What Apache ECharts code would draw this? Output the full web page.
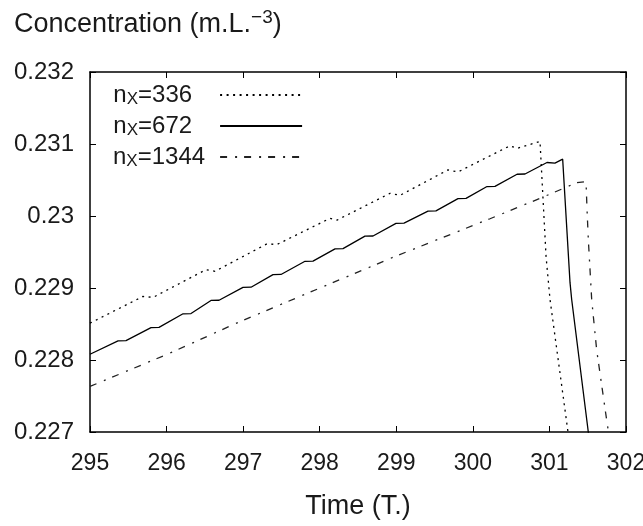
<!DOCTYPE html>
<html>
<head>
<meta charset="utf-8">
<script src="https://cdn.jsdelivr.net/npm/echarts@6/dist/echarts.min.js"></script>
<style>html,body{margin:0;padding:0;background:#fff;}#c{width:643px;height:526px;}</style>
</head>
<body>
<div id="c"></div>
<script>
// ---- data ----
const xTickLabels = ['295','296','297','298','299','300','301','302'];
const yTickLabels = ['0.227','0.228','0.229','0.23','0.231','0.232'];
const seriesNames = ['336','672','1344'];

const t336 = [295.000,295.692,295.823,296.515,296.633,297.312,297.442,298.134,298.226,298.918,299.049,299.675,299.806,300.485,300.577,300.877,300.956,301.008,301.243,301.282];
const c336 = [0.228512,0.228883,0.228869,0.229255,0.229232,0.229614,0.229604,0.229967,0.229943,0.230315,0.230287,0.230640,0.230612,0.230975,0.230939,0.231036,0.229437,0.228837,0.226996,0.226670];

const t672 = [295.000,295.366,295.470,295.797,295.901,296.215,296.319,296.580,296.685,296.998,297.103,297.390,297.494,297.808,297.912,298.200,298.304,298.591,298.696,298.996,299.101,299.414,299.518,299.806,299.911,300.185,300.289,300.577,300.681,300.968,301.072,301.173,301.269,301.291,301.508,301.530];
const c672 = [0.228080,0.228265,0.228269,0.228450,0.228453,0.228642,0.228645,0.228827,0.228830,0.229008,0.229011,0.229185,0.229188,0.229371,0.229374,0.229544,0.229547,0.229720,0.229722,0.229897,0.229900,0.230068,0.230071,0.230241,0.230244,0.230409,0.230411,0.230580,0.230583,0.230743,0.230734,0.230789,0.229074,0.228837,0.226996,0.226814];

const t1344 = [295.000,296.019,296.955,298.004,298.970,300.224,300.877,301.177,301.356,301.478,301.491,301.508,301.552,301.617,301.748,301.772,301.785];
const c1344 = [0.227633,0.228084,0.228531,0.229000,0.229432,0.229962,0.230245,0.230381,0.230464,0.230478,0.230092,0.229674,0.228837,0.228139,0.227163,0.226996,0.226860];

const zip = (a, b) => a.map((v, i) => [v, b[i]]);
const FONT = 'Liberation Sans, Arial, Helvetica, sans-serif';
const INK = '#1a1a1a';
const labelFor = (arr, base, step) => v => arr[Math.round((v - base) / step)] || '';

// measure text so legend labels occupy a fixed-width, left-aligned block
const ctx = document.createElement('canvas').getContext('2d');
const measure = (s, size) => { ctx.font = size + 'px ' + FONT; return ctx.measureText(s).width; };
const LEGEND_TEXT_W = 102;

const richLegend = {
  n: { fontSize: 24, fontFamily: FONT, color: INK, lineHeight: 24 },
  x: { fontSize: 17, fontFamily: FONT, color: INK, lineHeight: 24, padding: [9, 0, 0, 0] },
  v: { fontSize: 24, fontFamily: FONT, color: INK, lineHeight: 24 }
};
const padFor = name => {
  const val = '=' + name;
  const used = measure('n', 24) + measure('X', 17) + measure(val, 24);
  return Math.max(0, Math.round(LEGEND_TEXT_W - used));
};
seriesNames.forEach(n => {
  const pad = padFor(n);
  richLegend['p' + pad] = { width: pad, fontSize: 24, lineHeight: 24 };
});
const legendLabel = name => {
  const n = name.slice(3);
  return '{n|n}{x|X}{v|=' + n + '}{p' + padFor(n) + '| }';
};

const chart = echarts.init(document.getElementById('c'), null, { renderer: 'canvas' });
chart.setOption({
  backgroundColor: '#fff',
  animation: false,
  title: {
    text: '{a|Concentration (m.L.}{s|\u22123}{a|)}',
    left: 9, top: 4,
    textStyle: {
      fontWeight: 'normal',
      rich: {
        a: { fontSize: 27, fontFamily: FONT, fontWeight: 'normal', color: INK, lineHeight: 32 },
        s: { fontSize: 19, fontFamily: FONT, fontWeight: 'normal', color: INK, lineHeight: 32, padding: [0, 0, 14, 0] }
      }
    }
  },
  grid: { left: 90, right: 17, top: 72, bottom: 94, containLabel: false, outerBoundsMode: 'none' },
  legend: {
    orient: 'vertical',
    left: 108, top: 77,
    align: 'right',
    itemWidth: 82, itemHeight: 12, itemGap: 5,
    itemStyle: { color: 'rgba(0,0,0,0)', borderColor: 'rgba(0,0,0,0)', borderWidth: 0, opacity: 0 },
    data: seriesNames.map(n => 'nX=' + n),
    formatter: legendLabel,
    textStyle: { rich: richLegend, fontSize: 24, fontFamily: FONT, color: INK }
  },
  xAxis: [
    {
      type: 'value', min: 295, max: 302, interval: 1, position: 'bottom',
      axisLine: { show: true, onZero: false, lineStyle: { color: '#000', width: 1.5 } },
      axisTick: { show: true, inside: true, length: 6, lineStyle: { color: '#000', width: 1 } },
      axisLabel: { fontSize: 23, fontFamily: FONT, color: INK, margin: 20, formatter: labelFor(xTickLabels, 295, 1) },
      splitLine: { show: false },
      name: 'Time (T.)', nameLocation: 'middle', nameGap: 61,
      nameTextStyle: { fontSize: 27, fontFamily: FONT, color: INK }
    },
    {
      type: 'value', min: 295, max: 302, interval: 1, position: 'top',
      axisLine: { show: true, onZero: false, lineStyle: { color: '#000', width: 1.5 } },
      axisTick: { show: true, inside: true, length: 6, lineStyle: { color: '#000', width: 1 } },
      axisLabel: { show: false }, splitLine: { show: false }
    }
  ],
  yAxis: [
    {
      type: 'value', min: 0.227, max: 0.232, interval: 0.001, position: 'left',
      axisLine: { show: true, onZero: false, lineStyle: { color: '#000', width: 1.5 } },
      axisTick: { show: true, inside: true, length: 6, lineStyle: { color: '#000', width: 1 } },
      axisLabel: { fontSize: 24, fontFamily: FONT, color: INK, margin: 16, formatter: labelFor(yTickLabels, 0.227, 0.001) },
      splitLine: { show: false }
    },
    {
      type: 'value', min: 0.227, max: 0.232, interval: 0.001, position: 'right',
      axisLine: { show: true, onZero: false, lineStyle: { color: '#000', width: 1.5 } },
      axisTick: { show: true, inside: true, length: 6, lineStyle: { color: '#000', width: 1 } },
      axisLabel: { show: false }, splitLine: { show: false }
    }
  ],
  series: [
    {
      name: 'nX=336', type: 'line', data: zip(t336, c336), symbol: 'none', clip: true,
      lineStyle: { color: '#000', width: 1.3, type: [2, 4.5] }, itemStyle: { color: '#000' }
    },
    {
      name: 'nX=672', type: 'line', data: zip(t672, c672), symbol: 'none', clip: true,
      lineStyle: { color: '#000', width: 1.3, type: 'solid' }, itemStyle: { color: '#000' }
    },
    {
      name: 'nX=1344', type: 'line', data: zip(t1344, c1344), symbol: 'none', clip: true,
      lineStyle: { color: '#222', width: 1.3, type: [7, 8, 2, 7] }, itemStyle: { color: '#222' }
    }
  ]
});
</script>
</body>
</html>
